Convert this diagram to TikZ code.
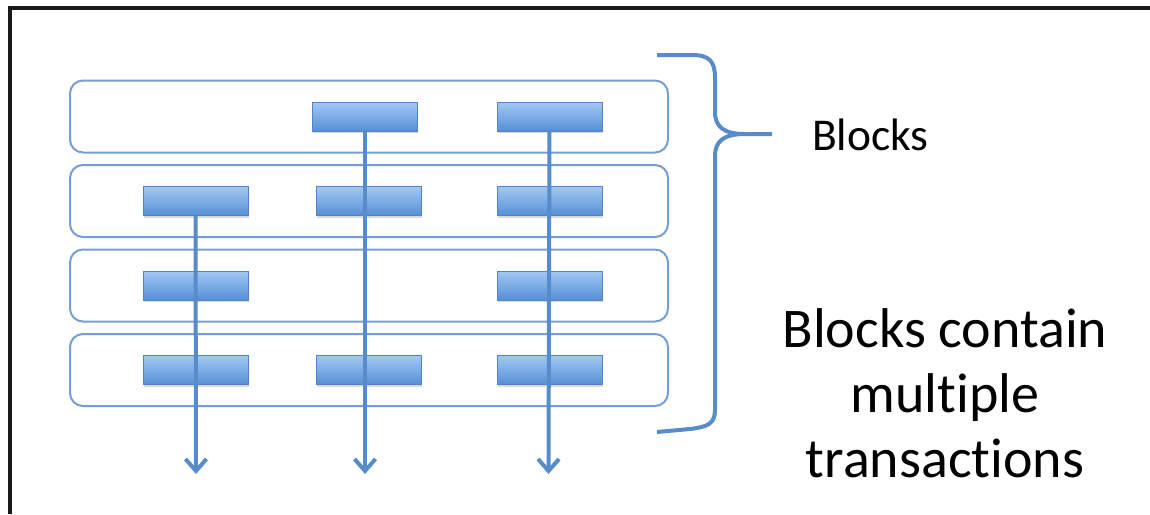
\documentclass[tikz,border=0pt]{standalone}
\usepackage{fontspec}
\setmainfont{Carlito}[Ligatures=NoCommon]
\usetikzlibrary{%
  positioning
 ,arrows.meta
 ,shadows
}
\definecolor{blkline}{RGB}{118,158,210}
\definecolor{txtop}{RGB}{162,200,244}
\definecolor{txbot}{RGB}{86,143,213}
\definecolor{txline}{RGB}{82,132,196}
\definecolor{chainblue}{RGB}{88,140,200}
\definecolor{framegray}{RGB}{25,25,25}
\tikzstyle{blk}=[draw=blkline,line width=2pt,rounded corners=13pt,minimum width=598pt,minimum height=72pt,inner sep=0pt]
\tikzstyle{tx}=[draw=txline,line width=1pt,top color=txtop,bottom color=txbot,minimum width=105pt,minimum height=29pt,inner sep=0pt,
  drop shadow={shadow xshift=0.5pt,shadow yshift=-2pt,opacity=.25,fill=black!60}]
\tikzstyle{chain}=[chainblue,line width=4pt,-{Straight Barb[length=12pt,width=21pt]}]
\tikzstyle{brace}=[chainblue,line width=4pt]

\begin{document}
\begin{tikzpicture}[x=1pt,y=-1pt]
      \useasboundingbox (0,0) rectangle (1150,514);
      \draw[framegray,line width=4pt] (1150,8) -- (10,8) -- (10,514);

      % the four blocks, stacked
      \node[blk] (b1) at (369,116.5) {};
      \node[blk] (b2) [below=10.5pt of b1] {};
      \node[blk] (b3) [below=10.5pt of b2] {};
      \node[blk] (b4) [below=10.5pt of b3] {};

      % transactions inside the blocks
      \node[tx] (t1b) at (365,0 |- b1) {};
      \node[tx] (t1c) at (549.5,0 |- b1) {};
      \node[tx] (t2a) at (195.5,0 |- b2) {};
      \node[tx] (t2b) at (369,0 |- b2) {};
      \node[tx] (t2c) at (549.5,0 |- b2) {};
      \node[tx] (t3a) at (195.5,0 |- b3) {};
      \node[tx] (t3c) at (549.5,0 |- b3) {};
      \node[tx] (t4a) at (195.5,0 |- b4) {};
      \node[tx] (t4b) at (369,0 |- b4) {};
      \node[tx] (t4c) at (549.5,0 |- b4) {};

      \coordinate (ea) at (196,474);
      \coordinate (eb) at (365,474);
      \coordinate (ec) at (548.5,474);
      \draw[chain] (t2a) -- (ea);
      \draw[chain] (t1b) -- (eb);
      \draw[chain] (t1c) -- (ec);

      % brace round the blocks
      \draw[brace] (657,55) -- (692,55) .. controls (710,55) and (715,62) .. (715,78)
        -- (715,112) .. controls (715,127) and (724,134) .. (745,134) -- (772,134);
      \draw[brace] (745,134) .. controls (724,134) and (715,141) .. (715,156)
        -- (715,410) .. controls (715,424) and (707,427) .. (690,429) -- (657,432);

      \node[anchor=base west,inner sep=0pt,font=\fontsize{45.5}{54}\selectfont] (lbl) at (812,150) {Blocks};
      \node[align=center,inner sep=0pt,font=\fontsize{56}{65}\selectfont] (note) at (945,393)
        {Blocks contain\\multiple\\transactions};
    \end{tikzpicture}
\end{document}
